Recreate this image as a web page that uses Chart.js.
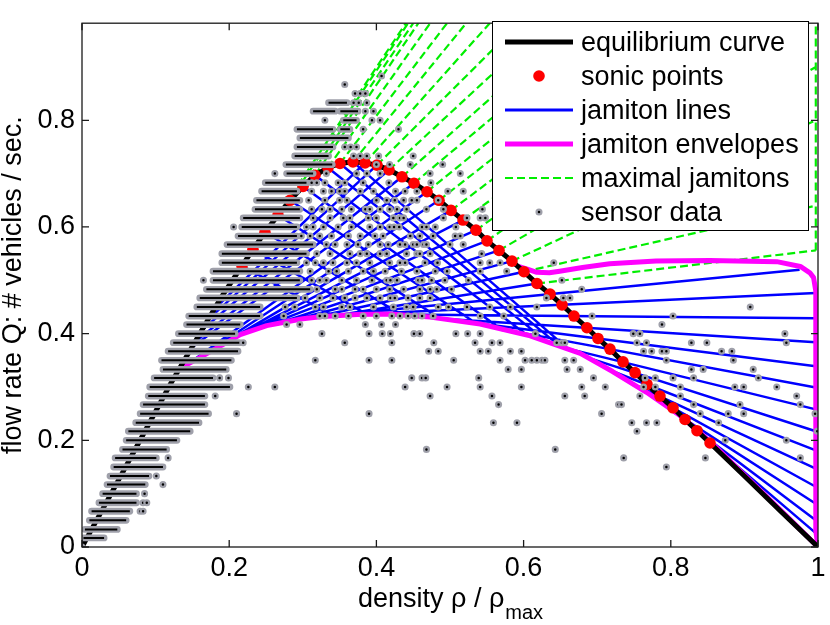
<!DOCTYPE html>
<html>
<head>
<meta charset="utf-8">
<title>Jamitons and sensor data</title>
<script src="https://cdn.jsdelivr.net/npm/chart.js@4.4.1/dist/chart.umd.min.js"></script>
<style>
  body { margin: 0; background: #fff; }
  canvas { display: block; }
</style>
</head>
<body>
<canvas id="chart" width="830" height="625"></canvas>
<script>
const FONT = "'Liberation Sans', Arial, Helvetica, sans-serif";

// axis ticks
const xTicks = [0, 0.2, 0.4, 0.6, 0.8, 1];
const yTicks = [0, 0.2, 0.4, 0.6, 0.8];

// equilibrium curve (black)
const eqRho = [0, 0.04, 0.08, 0.12, 0.16, 0.19, 0.2174, 0.2323, 0.2486, 0.2663, 0.2826, 0.3003, 0.3166, 0.3342, 0.3505, 0.3682,
  0.3845, 0.4008, 0.4171, 0.4348, 0.4511, 0.4688, 0.4851, 0.5014, 0.5177, 0.5353, 0.5503, 0.5666, 0.5842, 0.6005, 0.6182,
  0.6359, 0.6522, 0.6685, 0.6861, 0.7011, 0.7174, 0.7351, 0.7514, 0.7677, 0.7853, 0.8030, 0.8193, 0.8356, 0.8533, 0.90, 0.95, 1.0];
const eqQ = [0, 0.101, 0.203, 0.305, 0.400, 0.470, 0.527, 0.558, 0.590, 0.622, 0.650, 0.676, 0.697, 0.711, 0.719, 0.722,
  0.720, 0.716, 0.707, 0.694, 0.682, 0.666, 0.650, 0.631, 0.613, 0.594, 0.574, 0.556, 0.536, 0.516, 0.494,
  0.474, 0.454, 0.433, 0.411, 0.391, 0.371, 0.347, 0.327, 0.305, 0.283, 0.261, 0.239, 0.218, 0.195, 0.133, 0.066, 0];

// sonic points (red)
const sonicRho = [0.2174, 0.2323, 0.2486, 0.2663, 0.2826, 0.3003, 0.3166, 0.3342, 0.3505, 0.3682, 0.3845, 0.4008, 0.4171,
  0.4348, 0.4511, 0.4688, 0.4851, 0.5014, 0.5177, 0.5353, 0.5503, 0.5666, 0.5842, 0.6005, 0.6182, 0.6359, 0.6522,
  0.6685, 0.6861, 0.7011, 0.7174, 0.7351, 0.7514, 0.7677, 0.7853, 0.8030, 0.8193, 0.8356, 0.8533];
const sonicQ = [0.527, 0.558, 0.590, 0.622, 0.650, 0.676, 0.697, 0.711, 0.719, 0.722, 0.720, 0.716, 0.707,
  0.694, 0.682, 0.666, 0.650, 0.631, 0.613, 0.594, 0.574, 0.556, 0.536, 0.516, 0.494, 0.474, 0.454,
  0.433, 0.411, 0.391, 0.371, 0.347, 0.327, 0.305, 0.283, 0.261, 0.239, 0.218, 0.195];

// jamiton lines (blue): start and end [rho, Q]
const jamitonFrom = [
  [0.3682, 0.722], [0.3505, 0.719], [0.3342, 0.711], [0.3166, 0.697], [0.3003, 0.676],
  [0.2826, 0.650], [0.2663, 0.622], [0.2486, 0.590], [0.2323, 0.558], [0.2174, 0.527],
  [0.3845, 0.720], [0.4008, 0.716], [0.4171, 0.707], [0.4348, 0.694], [0.4511, 0.682],
  [0.4688, 0.666], [0.4851, 0.650], [0.5014, 0.631], [0.5177, 0.613], [0.5353, 0.594],
  [0.5503, 0.574], [0.5666, 0.556], [0.5842, 0.536], [0.6005, 0.516], [0.6182, 0.494],
  [0.300, 0.429], [0.380, 0.437], [0.435, 0.436], [0.490, 0.428], [0.540, 0.419], [0.600, 0.401], [0.645, 0.377],
  [0.685, 0.356], [0.720, 0.330], [0.750, 0.305], [0.780, 0.278], [0.805, 0.252], [0.828, 0.226], [0.850, 0.199]
];
const jamitonTo = [
  [0.660, 0.372], [0.647, 0.379], [0.632, 0.385], [0.605, 0.397], [0.572, 0.406],
  [0.537, 0.418], [0.486, 0.429], [0.432, 0.437], [0.386, 0.437], [0.342, 0.433],
  [0.176, 0.441], [0.170, 0.425], [0.159, 0.402], [0.152, 0.383], [0.150, 0.375],
  [0.145, 0.344], [0.155, 0.352], [0.170, 0.364], [0.185, 0.376], [0.205, 0.391],
  [0.240, 0.410], [0.270, 0.421], [0.295, 0.428], [0.320, 0.432], [0.345, 0.434],
  [0.975, 0.520], [0.997, 0.476], [0.997, 0.429], [0.997, 0.384], [0.997, 0.339], [0.997, 0.299], [0.997, 0.258],
  [0.997, 0.217], [0.997, 0.181], [0.997, 0.147], [0.997, 0.113], [0.997, 0.081], [0.997, 0.050], [0.997, 0.026]
];

// jamiton envelopes (magenta)
const lowerEnvRho = [0.132, 0.140, 0.160, 0.178, 0.200, 0.215, 0.251, 0.273, 0.300, 0.327, 0.374, 0.418, 0.473,
  0.541, 0.609, 0.677, 0.721, 0.767, 0.812, 0.840, 0.857, 0.900, 0.950, 1.0];
const lowerEnvQ = [0.334, 0.340, 0.355, 0.369, 0.386, 0.398, 0.415, 0.421, 0.428, 0.432, 0.436, 0.437, 0.431,
  0.418, 0.396, 0.363, 0.329, 0.290, 0.247, 0.214, 0.193, 0.135, 0.068, 0];
const upperEnvRho = [0.593, 0.605, 0.618, 0.635, 0.649, 0.680, 0.717, 0.780, 0.853, 0.944, 0.976, 0.989, 0.994, 0.997, 0.997, 1.0];
const upperEnvQ = [0.526, 0.521, 0.515, 0.514, 0.517, 0.524, 0.531, 0.536, 0.537, 0.535, 0.526, 0.514, 0.505, 0.480, 0.030, 0];

// maximal jamitons (green dashed)
const maximalFrom = [
  [0.2663, 0.622], [0.2826, 0.650], [0.3003, 0.676], [0.3166, 0.697], [0.3342, 0.711], [0.3505, 0.719],
  [0.3682, 0.722], [0.3845, 0.720], [0.4008, 0.716], [0.4171, 0.707], [0.4348, 0.694], [0.4511, 0.682],
  [0.4688, 0.666], [0.4851, 0.650], [0.5014, 0.631], [0.5177, 0.613], [0.5353, 0.594], [0.5503, 0.574],
  [0.5666, 0.556], [0.5842, 0.536], [0.6005, 0.516], [0.6182, 0.494], [0.997, 0.556]
];
const maximalTo = [
  [0.440, 0.982], [0.443, 0.982], [0.450, 0.982], [0.457, 0.982], [0.473, 0.982], [0.496, 0.982],
  [0.522, 0.982], [0.554, 0.982], [0.594, 0.982], [0.632, 0.982], [0.670, 0.982], [0.711, 0.982],
  [0.751, 0.982], [0.794, 0.982], [0.840, 0.982], [0.887, 0.982], [0.932, 0.982], [0.976, 0.982],
  [0.997, 0.900], [0.997, 0.800], [0.997, 0.640], [0.997, 0.556], [0.997, 0.982]
];

// sensor data: dense runs of readings along one flow row
const bandQ = [0.017, 0.033, 0.050, 0.067, 0.083, 0.100, 0.117, 0.133, 0.150, 0.167, 0.183, 0.200, 0.217, 0.233,
  0.250, 0.267, 0.283, 0.300, 0.317, 0.333, 0.350, 0.367, 0.383, 0.400, 0.417, 0.433, 0.450, 0.467, 0.483, 0.500,
  0.517, 0.533, 0.550, 0.567, 0.583, 0.600, 0.617, 0.633, 0.650, 0.667, 0.683, 0.700, 0.717, 0.733, 0.750, 0.767,
  0.783, 0.783, 0.800, 0.817, 0.817, 0.833];
const bandFrom = [0.002, 0.004, 0.010, 0.013, 0.023, 0.028, 0.034, 0.038, 0.043, 0.045, 0.055, 0.060, 0.063, 0.073,
  0.079, 0.083, 0.090, 0.092, 0.098, 0.110, 0.108, 0.117, 0.124, 0.131, 0.142, 0.145, 0.156, 0.160, 0.169, 0.178,
  0.178, 0.190, 0.190, 0.197, 0.212, 0.217, 0.219, 0.235, 0.237, 0.244, 0.249, 0.278, 0.277, 0.289, 0.292, 0.296,
  0.292, 0.351, 0.355, 0.314, 0.351, 0.335];
const bandTo = [0.030, 0.048, 0.060, 0.065, 0.074, 0.074, 0.086, 0.091, 0.110, 0.101, 0.115, 0.129, 0.147, 0.159,
  0.172, 0.167, 0.167, 0.201, 0.178, 0.196, 0.203, 0.212, 0.214, 0.208, 0.215, 0.242, 0.242, 0.292, 0.310, 0.296,
  0.296, 0.292, 0.305, 0.314, 0.292, 0.292, 0.296, 0.296, 0.296, 0.292, 0.305, 0.314, 0.340, 0.335, 0.341, 0.362,
  0.341, 0.364, 0.373, 0.344, 0.375, 0.360];

// sensor data: single readings, grouped by flow row
const dotQ = [0, 0.067, 0.083, 0.100, 0.117, 0.133, 0.150, 0.167, 0.183, 0.200, 0.217, 0.233, 0.250, 0.267, 0.283,
  0.300, 0.317, 0.333, 0.350, 0.367, 0.383, 0.400, 0.417, 0.433, 0.450, 0.467, 0.483, 0.500, 0.517, 0.533, 0.550,
  0.567, 0.583, 0.600, 0.617, 0.633, 0.650, 0.667, 0.683, 0.700, 0.717, 0.733, 0.750, 0.783, 0.800, 0.817, 0.833,
  0.850, 0.867, 0.883];
const dotRho = [
  [0.000],
  [0.079, 0.083],
  [0.083, 0.088],
  [0.085],
  [0.110],
  [0.101],
  [0.794],
  [0.117, 0.736, 0.847, 0.976],
  [0.468, 0.643],
  [0.874, 0.957],
  [0.754, 0.999],
  [0.559, 0.591, 0.747, 0.767, 0.781, 0.865],
  [0.210, 0.390, 0.706, 0.840, 0.878, 0.899, 0.996],
  [0.566, 0.729, 0.733, 0.831, 0.894, 0.976],
  [0.181, 0.473, 0.557, 0.656, 0.683, 0.758, 0.813, 0.971],
  [0.226, 0.262, 0.439, 0.496, 0.541, 0.597, 0.679, 0.711, 0.763, 0.779, 0.813, 0.887, 0.899, 0.944],
  [0.187, 0.199, 0.448, 0.462, 0.467, 0.539, 0.695, 0.765, 0.779, 0.803, 0.831, 0.919],
  [0.579, 0.597, 0.659, 0.677, 0.828, 0.844, 0.912],
  [0.317, 0.390, 0.421, 0.505, 0.568, 0.602, 0.611, 0.618, 0.625, 0.629, 0.656, 0.668, 0.794, 0.885],
  [0.471, 0.484, 0.541, 0.552, 0.582, 0.597, 0.763, 0.774, 0.788, 0.794, 0.869, 0.883],
  [0.219, 0.357, 0.421, 0.478, 0.534, 0.557, 0.568, 0.645, 0.652, 0.656, 0.754, 0.767, 0.828, 0.849, 0.957],
  [0.326, 0.390, 0.408, 0.419, 0.451, 0.459, 0.508, 0.524, 0.541, 0.616, 0.749, 0.758, 0.955],
  [0.278, 0.296, 0.385, 0.407, 0.426, 0.788],
  [0.274, 0.323, 0.330, 0.344, 0.362, 0.382, 0.400, 0.421, 0.432, 0.443, 0.452, 0.462, 0.477, 0.541, 0.573, 0.693, 0.803],
  [0.276, 0.289, 0.317, 0.328, 0.353, 0.364, 0.396, 0.423, 0.441, 0.450, 0.484, 0.498, 0.523, 0.554, 0.582, 0.618, 0.908],
  [0.303, 0.323, 0.341, 0.357, 0.371, 0.387, 0.405, 0.419, 0.425, 0.443, 0.459, 0.473, 0.631, 0.654, 0.663],
  [0.319, 0.344, 0.353, 0.371, 0.382, 0.400, 0.418, 0.437, 0.459, 0.473, 0.482, 0.502, 0.679],
  [0.165, 0.312, 0.323, 0.332, 0.353, 0.373, 0.394, 0.414, 0.419, 0.428, 0.457, 0.462, 0.475, 0.493, 0.525, 0.652],
  [0.310, 0.335, 0.346, 0.362, 0.382, 0.396, 0.412, 0.434, 0.455, 0.480, 0.496, 0.541, 0.577],
  [0.305, 0.317, 0.328, 0.341, 0.360, 0.373, 0.391, 0.418, 0.432, 0.439, 0.466, 0.483, 0.541, 0.554, 0.568, 0.641],
  [0.319, 0.337, 0.364, 0.378, 0.387, 0.405, 0.414, 0.441, 0.455, 0.459, 0.473, 0.543],
  [0.332, 0.344, 0.360, 0.375, 0.389, 0.405, 0.416, 0.432, 0.439, 0.450, 0.455, 0.464, 0.468, 0.500, 0.518],
  [0.298, 0.310, 0.323, 0.339, 0.362, 0.378, 0.398, 0.409, 0.446, 0.459, 0.477, 0.507, 0.514],
  [0.206, 0.305, 0.314, 0.328, 0.348, 0.366, 0.391, 0.405, 0.418, 0.424, 0.431, 0.462, 0.468, 0.480, 0.508],
  [0.314, 0.337, 0.355, 0.364, 0.389, 0.400, 0.423, 0.432, 0.437, 0.491, 0.523, 0.541, 0.548],
  [0.312, 0.326, 0.337, 0.353, 0.366, 0.385, 0.391, 0.405, 0.418, 0.428, 0.441, 0.468, 0.491, 0.544],
  [0.308, 0.330, 0.350, 0.360, 0.400, 0.414, 0.425, 0.437, 0.448, 0.455, 0.484],
  [0.312, 0.328, 0.339, 0.350, 0.357, 0.378, 0.396, 0.426, 0.439, 0.455, 0.497, 0.518],
  [0.312, 0.319, 0.330, 0.348, 0.357, 0.382, 0.417, 0.474],
  [0.262, 0.332, 0.373, 0.387, 0.405, 0.473, 0.514],
  [0.400, 0.418, 0.446, 0.490],
  [0.369, 0.378, 0.387, 0.403, 0.450],
  [0.357, 0.365, 0.373],
  [0.382, 0.430],
  [0.330, 0.394, 0.405],
  [0.385, 0.396],
  [0.369, 0.376, 0.387],
  [0.371, 0.378, 0.385],
  [0.357],
  [0.407]
];

const legendLabels = ['equilibrium curve', 'sonic points', 'jamiton lines', 'jamiton envelopes', 'maximal jamitons', 'sensor data'];

const GRAY = '#9fa0aa';
const BLUE = '#0000ff';
const MAGENTA = '#ff00ff';
const GREEN = '#00ee00';
const RED = '#ff0000';

// helpers to turn arrays into chart points
function curve(xs, ys) {
  return xs.map((x, i) => ({ x: x, y: ys[i] }));
}
function segments(from, to) {
  const pts = [];
  from.forEach((a, i) => {
    pts.push({ x: a[0], y: a[1] }, { x: to[i][0], y: to[i][1] }, { x: null, y: null });
  });
  return pts;
}
function bands() {
  const pts = [];
  bandQ.forEach((q, i) => {
    pts.push({ x: bandFrom[i], y: q }, { x: bandTo[i], y: q }, { x: null, y: null });
  });
  return pts;
}
function dots() {
  const pts = [];
  dotQ.forEach((q, i) => dotRho[i].forEach(r => pts.push({ x: r, y: q })));
  return pts;
}

const lineBase = { type: 'line', pointRadius: 0, tension: 0, fill: false, spanGaps: false };

const boxPlugin = {
  id: 'boxAndLegend',
  beforeDraw(chart) {
    const ctx = chart.ctx;
    ctx.save();
    ctx.fillStyle = '#fff';
    ctx.fillRect(0, 0, chart.width, chart.height);
    ctx.restore();
  },
  afterDraw(chart) {
    const ctx = chart.ctx;
    const a = chart.chartArea;
    const xs = chart.scales.x, ys = chart.scales.y;
    ctx.save();
    // axes box with inward ticks
    ctx.strokeStyle = '#1a1a1a';
    ctx.lineWidth = 1.3;
    ctx.strokeRect(a.left, a.top, a.right - a.left, a.bottom - a.top);
    ctx.beginPath();
    xTicks.forEach(v => {
      const px = xs.getPixelForValue(v);
      ctx.moveTo(px, a.bottom); ctx.lineTo(px, a.bottom - 7);
      ctx.moveTo(px, a.top); ctx.lineTo(px, a.top + 7);
    });
    yTicks.forEach(v => {
      const py = ys.getPixelForValue(v);
      ctx.moveTo(a.left, py); ctx.lineTo(a.left + 7, py);
      ctx.moveTo(a.right, py); ctx.lineTo(a.right - 7, py);
    });
    ctx.stroke();

    // x axis title with subscript
    ctx.fillStyle = '#000';
    ctx.textBaseline = 'alphabetic';
    ctx.textAlign = 'left';
    const main = 'density \u03c1 / \u03c1';
    ctx.font = '27px ' + FONT;
    const w1 = ctx.measureText(main).width;
    ctx.font = '20px ' + FONT;
    const w2 = ctx.measureText('max').width;
    const x0 = (a.left + a.right) / 2 - (w1 + w2) / 2;
    ctx.font = '27px ' + FONT;
    ctx.fillText(main, x0, 607);
    ctx.font = '20px ' + FONT;
    ctx.fillText('max', x0 + w1 + 1, 619);

    // legend
    const L = 492.5, T = 21.5, W = 316, H = 209;
    ctx.fillStyle = '#fff';
    ctx.fillRect(L, T, W, H);
    ctx.strokeStyle = '#000';
    ctx.lineWidth = 1;
    ctx.strokeRect(L, T, W, H);
    ctx.font = '27px ' + FONT;
    legendLabels.forEach((label, i) => {
      const cy = 42 + i * 34;
      ctx.save();
      if (i === 1) {
        ctx.fillStyle = RED;
        ctx.beginPath(); ctx.arc(539, cy, 5.8, 0, Math.PI * 2); ctx.fill();
      } else if (i === 5) {
        ctx.fillStyle = '#000';
        ctx.strokeStyle = GRAY; ctx.lineWidth = 2.3;
        ctx.beginPath(); ctx.arc(539, cy, 2.4, 0, Math.PI * 2); ctx.fill(); ctx.stroke();
      } else {
        ctx.strokeStyle = ['#000', null, BLUE, MAGENTA, GREEN][i];
        ctx.lineWidth = [5, 0, 3.2, 5, 2.2][i];
        if (i === 4) ctx.setLineDash([8, 4]);
        ctx.beginPath(); ctx.moveTo(505, cy); ctx.lineTo(573, cy); ctx.stroke();
      }
      ctx.restore();
      ctx.fillStyle = '#000';
      ctx.fillText(label, 581, cy + 8.5);
    });
    ctx.restore();
  }
};

new Chart(document.getElementById('chart'), {
  type: 'line',
  data: {
    datasets: [
      { label: 'sensor data', type: 'line', data: dots(), showLine: false, pointRadius: 2.4, pointBorderWidth: 2.3,
        pointBackgroundColor: '#000', pointBorderColor: GRAY, order: 0 },
      { ...lineBase, label: 'sensor rows core', data: bands(), borderColor: '#000', borderWidth: 2, borderCapStyle: 'butt', order: 1 },
      { ...lineBase, label: 'sensor rows', data: bands(), borderColor: GRAY, borderWidth: 6.8, borderCapStyle: 'round', order: 2 },
      { label: 'sonic points', type: 'line', data: curve(sonicRho, sonicQ), showLine: false, pointRadius: 5.8,
        pointBorderWidth: 0, pointBackgroundColor: RED, pointBorderColor: RED, order: 3 },
      { ...lineBase, label: 'equilibrium curve', data: curve(eqRho, eqQ), borderColor: '#000', borderWidth: 5, order: 4 },
      { ...lineBase, label: 'jamiton envelopes', data: curve(lowerEnvRho, lowerEnvQ), borderColor: MAGENTA, borderWidth: 5,
        borderJoinStyle: 'round', order: 5 },
      { ...lineBase, label: 'jamiton envelopes upper', data: curve(upperEnvRho, upperEnvQ), borderColor: MAGENTA, borderWidth: 5,
        borderJoinStyle: 'round', order: 5 },
      { ...lineBase, label: 'jamiton lines', data: segments(jamitonFrom, jamitonTo), borderColor: BLUE, borderWidth: 2.5, order: 6 },
      { ...lineBase, label: 'maximal jamitons', data: segments(maximalFrom, maximalTo), borderColor: GREEN, borderWidth: 2.2,
        borderDash: [8, 4], order: 7 }
    ]
  },
  options: {
    responsive: false,
    animation: false,
    events: [],
    devicePixelRatio: 1,
    layout: { padding: { top: 8, right: 12, left: 0, bottom: 0 } },
    plugins: { legend: { display: false }, tooltip: { enabled: false } },
    scales: {
      x: {
        type: 'linear', min: 0, max: 1,
        afterFit: s => { s.height = 78; s.paddingLeft = 0; s.paddingRight = 0; },
        grid: { display: false, drawTicks: false },
        border: { display: false },
        ticks: { stepSize: 0.2, padding: 5, color: '#000', font: { family: FONT, size: 27 },
          callback: v => String(Math.round(v * 10) / 10) }
      },
      y: {
        type: 'linear', min: 0, max: 0.982,
        afterFit: s => { s.width = 82; },
        grid: { display: false, drawTicks: false },
        border: { display: false },
        ticks: { stepSize: 0.2, includeBounds: false, padding: 7, color: '#000', font: { family: FONT, size: 27 },
          callback: v => String(Math.round(v * 10) / 10) },
        title: { display: true, text: 'flow rate Q: # vehicles / sec.', color: '#000',
          font: { family: FONT, size: 27, lineHeight: 1 }, padding: { top: 0, bottom: 0 } }
      }
    }
  },
  plugins: [boxPlugin]
});
</script>
</body>
</html>
